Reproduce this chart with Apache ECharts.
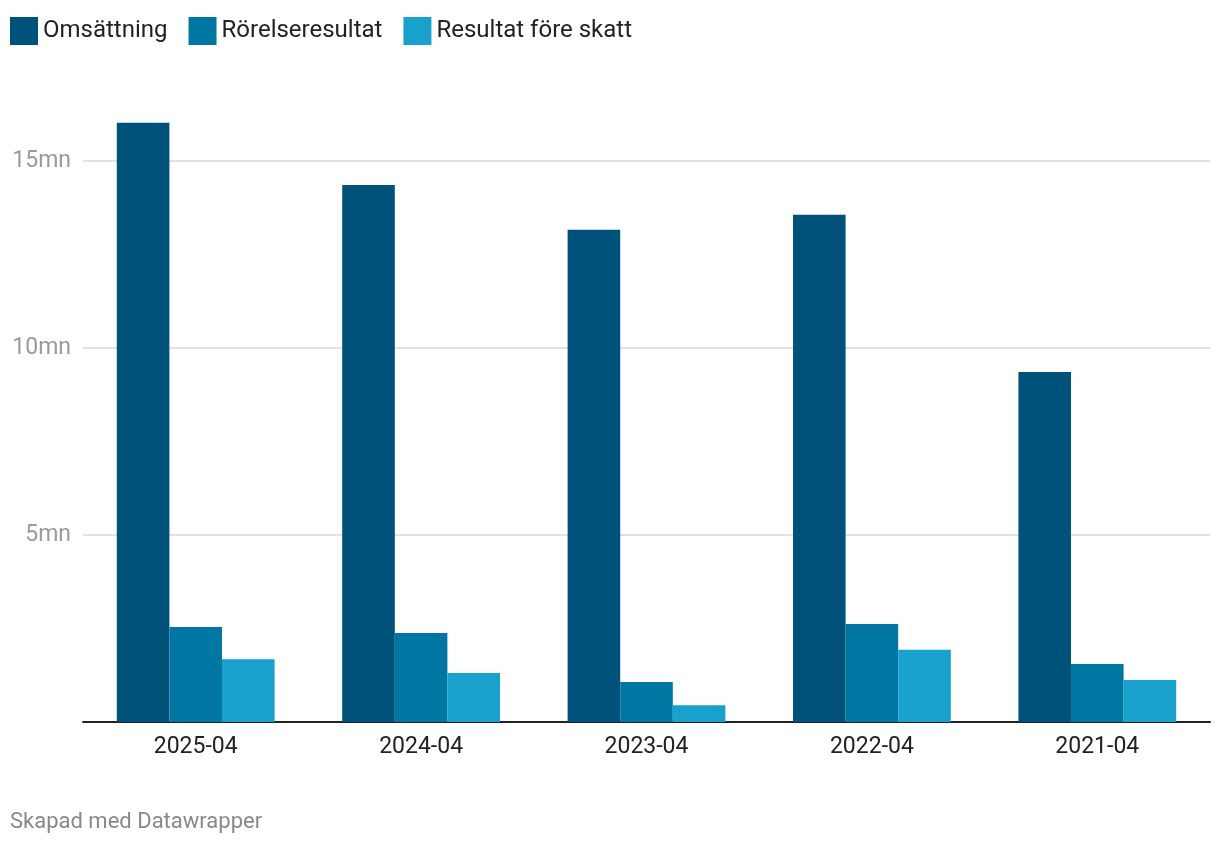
<!DOCTYPE html>
<html>
<head>
<meta charset="utf-8">
<script src="https://cdn.jsdelivr.net/npm/echarts@6/dist/echarts.min.js"></script>
<style>
html,body{margin:0;padding:0;background:#fff;}
#c{width:1220px;height:844px;}
</style>
</head>
<body>
<div id="c"></div>
<script>
const categories = ['2025-04', '2024-04', '2023-04', '2022-04', '2021-04'];
const omsattning = [16.02, 14.36, 13.16, 13.56, 9.36];
const rorelseresultat = [2.54, 2.38, 1.07, 2.62, 1.55];
const resultatForeSkatt = [1.68, 1.31, 0.45, 1.93, 1.12];
const yTicks = [5, 10, 15];
const seriesNames = ['Omsättning', 'Rörelseresultat', 'Resultat före skatt'];
const colors = ['#00527a', '#0077a3', '#18a1cd'];

const chart = echarts.init(document.getElementById('c'));
const font = 'Roboto, "Noto Sans", sans-serif';
chart.setOption({
  animation: false,
  color: colors,
  textStyle: { fontFamily: font },
  legend: {
    left: 5, top: 12,
    itemWidth: 28, itemHeight: 28, itemGap: 21,
    icon: 'rect',
    textStyle: { fontSize: 24, color: '#222', fontFamily: font },
    data: seriesNames
  },
  grid: { left: 83, right: 10, top: 86.2, bottom: 122 },
  xAxis: {
    type: 'category',
    data: categories,
    axisLine: { lineStyle: { color: '#222', width: 2 } },
    axisTick: { show: false },
    axisLabel: { fontSize: 23, color: '#222', margin: 14, fontFamily: font }
  },
  yAxis: {
    type: 'value',
    min: 0, max: 17, interval: 5,
    axisLine: { show: false },
    axisTick: { show: false },
    splitLine: { showMinLine: false, showMaxLine: false, lineStyle: { color: '#e2e2e2', width: 2 } },
    axisLabel: {
      fontSize: 23, color: '#9a9a9a', margin: 12, fontFamily: font,
      showMaxLabel: false,
      formatter: v => (yTicks.indexOf(v) < 0) ? '' : v + 'mn'
    }
  },
  series: [
    { name: seriesNames[0], type: 'bar', data: omsattning, barGap: '0%', barCategoryGap: '30%' },
    { name: seriesNames[1], type: 'bar', data: rorelseresultat, barGap: '0%', barCategoryGap: '30%' },
    { name: seriesNames[2], type: 'bar', data: resultatForeSkatt, barGap: '0%', barCategoryGap: '30%' }
  ],
  graphic: [{
    type: 'text', left: 10, top: 811,
    style: { text: 'Skapad med Datawrapper', fontSize: 22, fill: '#888', fontFamily: font }
  }]
});
</script>
</body>
</html>
